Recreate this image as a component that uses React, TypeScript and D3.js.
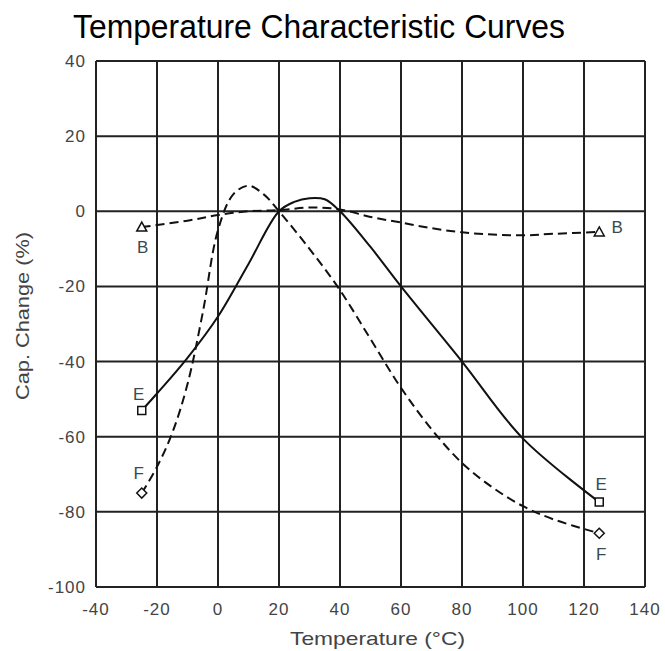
import React from "react";
import * as d3 from "d3";

const xTicks = [-40, -20, 0, 20, 40, 60, 80, 100, 120, 140];
const yTicks = [40, 20, 0, -20, -40, -60, -80, -100];

const seriesB: [number, number][] = [
  [-25, -4.2], [-10, -2.5], [0, -1], [10, 0], [20, 0.3], [30, 1], [40, 0.5],
  [50, -1.5], [60, -3], [70, -4.5], [80, -5.6], [90, -6.2], [100, -6.4], [110, -6], [125, -5.5],
];
const seriesE: [number, number][] = [
  [-25, -53], [-20, -48.5], [-10, -39], [0, -28], [10, -14], [20, 0], [25, 2.5],
  [30, 3.5], [35, 3.2], [40, 0], [50, -9.5], [60, -20], [80, -40], [100, -60.5], [125, -77.4],
];
const seriesF: [number, number][] = [
  [-25, -75], [-20, -68], [-15, -59], [-10, -46], [-5, -27], [0, -5], [5, 4.5],
  [10, 6.8], [15, 4.5], [20, 0], [30, -10], [40, -21], [50, -34], [60, -47],
  [70, -58], [80, -67], [90, -73.5], [100, -78.5], [110, -82], [125, -85.7],
];

const W = 665;
const H = 651;
const left = 96, right = 645, top = 61, bottom = 587;
const FONT = "'Liberation Sans', Arial, sans-serif";

export default function App() {
  const x = d3.scaleLinear().domain([-40, 140]).range([left, right]);
  const y = d3.scaleLinear().domain([-100, 40]).range([bottom, top]);
  const line = d3
    .line<[number, number]>()
    .x((d) => x(d[0]))
    .y((d) => y(d[1]))
    .curve(d3.curveCatmullRom.alpha(0.5));

  const labelColor = "#3a4a50";
  const tickColor = "#444";
  const gridColor = "#222";

  const first = (s: [number, number][]) => s[0];
  const last = (s: [number, number][]) => s[s.length - 1];

  const tri = (p: [number, number]) => {
    const cx = x(p[0]), cy = y(p[1]);
    return `M${cx},${cy - 5} L${cx + 5},${cy + 4} L${cx - 5},${cy + 4} Z`;
  };
  const sq = (p: [number, number]) => {
    const cx = x(p[0]), cy = y(p[1]);
    return `M${cx - 4},${cy - 4} h8 v8 h-8 Z`;
  };
  const dia = (p: [number, number]) => {
    const cx = x(p[0]), cy = y(p[1]);
    return `M${cx},${cy - 5} L${cx + 5},${cy} L${cx},${cy + 5} L${cx - 5},${cy} Z`;
  };

  return (
    <div style={{ position: "absolute", left: 0, top: 0 }}>
      <svg width={W} height={H} style={{ display: "block", background: "#fff" }}>
        <text
          x={73}
          y={38}
          fontFamily={FONT}
          fontSize={34}
          textLength={492}
          lengthAdjust="spacingAndGlyphs"
          fill="#000"
        >
          Temperature Characteristic Curves
        </text>

        {/* grid */}
        {xTicks.map((t) => (
          <line key={"gx" + t} x1={x(t)} x2={x(t)} y1={top} y2={bottom} stroke={gridColor} strokeWidth={2} />
        ))}
        {yTicks.map((t) => (
          <line key={"gy" + t} x1={left} x2={right} y1={y(t)} y2={y(t)} stroke={gridColor} strokeWidth={2} />
        ))}

        {/* tick labels */}
        {xTicks.map((t) => (
          <text
            key={"tx" + t}
            x={x(t)}
            y={615}
            textAnchor="middle"
            fontFamily={FONT}
            fontSize={17}
            letterSpacing={1}
            fill={tickColor}
          >
            {t}
          </text>
        ))}
        {yTicks.map((t) => (
          <text
            key={"ty" + t}
            x={86}
            y={y(t) + 6}
            textAnchor="end"
            fontFamily={FONT}
            fontSize={17}
            letterSpacing={1}
            fill={tickColor}
          >
            {t}
          </text>
        ))}

        <text
          x={290}
          y={645}
          fontFamily={FONT}
          fontSize={19}
          textLength={175}
          lengthAdjust="spacingAndGlyphs"
          fill={tickColor}
        >
          Temperature (°C)
        </text>
        <text
          transform={`translate(29,400) rotate(-90)`}
          fontFamily={FONT}
          fontSize={19}
          textLength={168}
          lengthAdjust="spacingAndGlyphs"
          fill={tickColor}
        >
          Cap. Change (%)
        </text>

        {/* curves */}
        <path d={line(seriesB) || ""} fill="none" stroke="#111" strokeWidth={2} strokeDasharray="9,5" />
        <path d={line(seriesE) || ""} fill="none" stroke="#111" strokeWidth={2} />
        <path d={line(seriesF) || ""} fill="none" stroke="#111" strokeWidth={2} strokeDasharray="9,5" />

        {/* markers */}
        {[first(seriesB), last(seriesB)].map((p, i) => (
          <path key={"mb" + i} d={tri(p)} fill="#fff" stroke="#111" strokeWidth={1.5} />
        ))}
        {[first(seriesE), last(seriesE)].map((p, i) => (
          <path key={"me" + i} d={sq(p)} fill="#fff" stroke="#111" strokeWidth={1.5} />
        ))}
        {[first(seriesF), last(seriesF)].map((p, i) => (
          <path key={"mf" + i} d={dia(p)} fill="#fff" stroke="#111" strokeWidth={1.5} />
        ))}

        {/* series labels */}
        <g fontFamily={FONT} fontSize={17} fill={labelColor}>
          <text x={x(first(seriesB)[0]) + 1} y={y(first(seriesB)[1]) + 26} textAnchor="middle">B</text>
          <text x={x(last(seriesB)[0]) + 18} y={y(last(seriesB)[1]) + 1} textAnchor="middle">B</text>
          <text x={x(first(seriesE)[0]) - 3} y={y(first(seriesE)[1]) - 10} textAnchor="middle">E</text>
          <text x={x(last(seriesE)[0]) + 2} y={y(last(seriesE)[1]) - 12} textAnchor="middle">E</text>
          <text x={x(first(seriesF)[0]) - 3} y={y(first(seriesF)[1]) - 14} textAnchor="middle">F</text>
          <text x={x(last(seriesF)[0]) + 2} y={y(last(seriesF)[1]) + 27} textAnchor="middle">F</text>
        </g>
      </svg>
    </div>
  );
}
